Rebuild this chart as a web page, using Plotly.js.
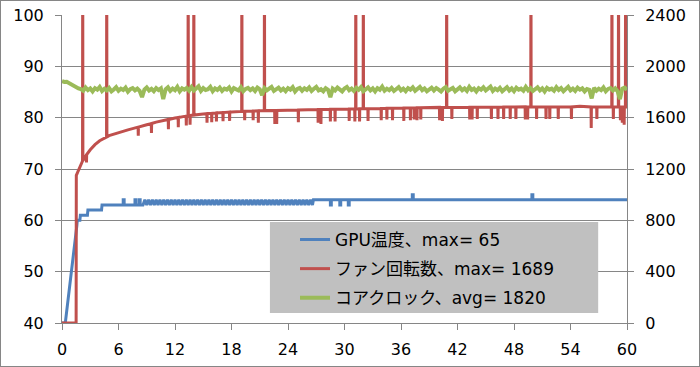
<!DOCTYPE html>
<html>
<head>
<meta charset="utf-8">
<script src="https://cdn.plot.ly/plotly-3.0.1.min.js"></script>
<style>
html,body{margin:0;padding:0;background:#fff;}
#chart{width:698px;height:365px;border:1px solid #868686;}
</style>
</head>
<body>
<div id="chart"></div>
<script>
// ---- Data ----
const seriesNames = ["GPU温度、max= 65", "ファン回転数、max= 1689", "コアクロック、avg= 1820"];
const xTicks = [0, 6, 12, 18, 24, 30, 36, 42, 48, 54, 60];
const leftTicks = [40, 50, 60, 70, 80, 90, 100];
const rightTicks = [0, 400, 800, 1200, 1600, 2000, 2400];

// GPU temperature (°C), minutes
const tempX = [0, 0.35, 1.58, 1.62, 1.9, 1.95, 2.7, 2.75, 4.2, 4.25,
  6.5, 6.5, 6.6, 6.6, 7.75, 7.75, 7.85, 7.85, 8.2, 8.2, 8.3, 8.3, 8.6,
  8.8, 9.0, 9.2, 9.4, 9.6, 9.8, 10.0, 10.2, 10.4, 10.6,
  10.8, 11.0, 11.2, 11.4, 11.6, 11.8, 12.0, 12.2, 12.4, 12.6,
  12.8, 13.0, 13.2, 13.4, 13.6, 13.8, 14.0, 14.2, 14.4, 14.6,
  14.8, 15.0, 15.2, 15.4, 15.6, 15.8, 16.0, 16.2, 16.4, 16.6,
  16.8, 17.0, 17.2, 17.4, 17.6, 17.8, 18.0, 18.2, 18.4, 18.6,
  18.8, 19.0, 19.2, 19.4, 19.6, 19.8, 20.0, 20.2, 20.4, 20.6,
  20.8, 21.0, 21.2, 21.4, 21.6, 21.8, 22.0, 22.2, 22.4, 22.6,
  22.8, 23.0, 23.2, 23.4, 23.6, 23.8, 24.0, 24.2, 24.4, 24.6,
  24.8, 25.0, 25.2, 25.4, 25.6, 25.8, 26.0, 26.2, 26.4, 26.6,
  26.7, 28.5, 28.5, 28.6, 28.6, 29.5, 29.5, 29.6, 29.6, 30.4, 30.4, 30.5, 30.5,
  37.2, 37.2, 37.3, 37.3, 49.9, 49.9, 50.0, 50.0, 60];
const tempY = [40, 40, 59, 60, 60, 61, 61, 62, 62, 63,
  63, 64, 64, 63, 63, 64, 64, 63, 63, 64, 64, 63, 63,
  64, 63, 64, 63, 64, 63, 64, 63, 64, 63,
  64, 63, 64, 63, 64, 63, 64, 63, 64, 63,
  64, 63, 64, 63, 64, 63, 64, 63, 64, 63,
  64, 63, 64, 63, 64, 63, 64, 63, 64, 63,
  64, 63, 64, 63, 64, 63, 64, 63, 64, 63,
  64, 63, 64, 63, 64, 63, 64, 63, 64, 63,
  64, 63, 64, 63, 64, 63, 64, 63, 64, 63,
  64, 63, 64, 63, 64, 63, 64, 63, 64, 63,
  64, 63, 64, 63, 64, 63, 64, 63, 64, 63,
  64, 64, 63, 63, 64, 64, 63, 63, 64, 64, 63, 63, 64,
  64, 65, 65, 64, 64, 65, 65, 64, 64];

// Fan speed (rpm), minutes; readings above 2400 are off-scale glitches
const fanX = [0, 1.5, 1.52, 1.7, 2.0,
  2.18, 2.2, 2.22, 2.5, 2.58, 2.6, 2.62, 3.0, 3.5, 4.0,
  4.73, 4.75, 4.77, 5.0, 6.0, 7.0,
  8.08, 8.1, 8.12, 9.0, 9.48, 9.5, 9.52, 10, 11,
  11.28, 11.3, 11.32, 12, 12.33, 12.35, 12.37, 13,
  13.18, 13.2, 13.22, 13.38, 13.4, 13.42, 13.58, 13.6, 13.62, 13.98, 14.0, 14.02, 15.0,
  15.38, 15.4, 15.42, 15.88, 15.9, 15.92, 16.38, 16.4, 16.42, 17.08, 17.1, 17.12, 17.78, 17.8, 17.82, 18.0,
  19.08, 19.1, 19.12, 19.38, 19.4, 19.42, 20.28, 20.3, 20.32, 20.83, 20.85, 20.87, 21.48, 21.5, 21.52,
  22.58, 22.6, 22.62, 22.78, 22.8, 22.82, 25.08, 25.1, 25.12, 27.18, 27.2, 27.22, 27.48, 27.5, 27.52,
  28.48, 28.5, 28.52, 28.98, 29.0, 29.02, 30.48, 30.5, 30.52, 31.08, 31.1, 31.12, 31.18, 31.2, 31.22,
  31.58, 31.6, 31.62, 31.98, 32.0, 32.02, 32.48, 32.5, 32.52, 33.88, 33.9, 33.92, 34.48, 34.5, 34.52,
  35.08, 35.1, 35.12, 36.28, 36.3, 36.32, 36.98, 37.0, 37.02, 37.38, 37.4, 37.42, 37.68, 37.7, 37.72,
  38.08, 38.1, 38.12, 40.08, 40.1, 40.12, 40.38, 40.4, 40.42, 40.83, 40.85, 40.87, 41.38, 41.4, 41.42,
  43.28, 43.3, 43.32, 43.53, 43.55, 43.57, 44.08, 44.1, 44.12, 45.58, 45.6, 45.62, 46.28, 46.3, 46.32,
  46.88, 46.9, 46.92, 47.58, 47.6, 47.62, 48.18, 48.2, 48.22, 49.18, 49.2, 49.22, 49.43, 49.45, 49.47,
  49.78, 49.8, 49.82, 50.38, 50.4, 50.42, 51.38, 51.4, 51.42, 51.78, 51.8, 51.82, 52.68, 52.7, 52.72,
  54.08, 54.1, 54.12, 55.0, 56.18, 56.2, 56.22, 56.78, 56.8, 56.82, 58.38, 58.4, 58.42, 58.53, 58.55, 58.57,
  59.08, 59.1, 59.12, 59.28, 59.3, 59.32, 59.48, 59.5, 59.52, 59.68, 59.7, 59.72, 59.83, 59.85, 59.87, 60];
const fanY = [0, 0, 1150, 1180, 1240,
  1262, 3000, 1266, 1300, 1308, 1250, 1312, 1350, 1390, 1420,
  1448, 3000, 1450, 1460, 1485, 1505,
  1526, 1460, 1527, 1545, 1554, 1480, 1555, 1565, 1582,
  1586, 1510, 1586, 1597, 1601, 1525, 1602, 1610,
  1612, 1540, 1612, 1614, 3000, 1614, 1616, 1545, 1616, 1620, 3000, 1620, 1628,
  1631, 1560, 1631, 1634, 1565, 1634, 1637, 1570, 1637, 1640, 1572, 1640, 1644, 1575, 1644, 1645,
  1649, 3000, 1649, 1650, 1580, 1650, 1652, 1580, 1652, 1653, 1560, 1653, 1655, 3000, 1655,
  1656, 1550, 1656, 1656, 1550, 1656, 1660, 1565, 1660, 1663, 1560, 1663, 1663, 1550, 1663,
  1665, 1570, 1665, 1666, 1570, 1666, 1667, 1575, 1667, 1668, 1570, 1668, 1668, 3000, 1668,
  1669, 1570, 1669, 1669, 3000, 1669, 1670, 1575, 1670, 1672, 1580, 1672, 1673, 1585, 1673,
  1673, 1580, 1673, 1675, 1575, 1675, 1676, 1580, 1676, 1676, 1585, 1676, 1677, 1580, 1677,
  1677, 1585, 1677, 1680, 1580, 1680, 1680, 1575, 1680, 1680, 3000, 1680, 1680, 1590, 1680,
  1681, 1585, 1681, 1681, 1585, 1681, 1681, 1590, 1681, 1682, 1590, 1682, 1682, 1590, 1682,
  1683, 1590, 1683, 1683, 1590, 1683, 1683, 1590, 1683, 1684, 1585, 1684, 1684, 1585, 1684,
  1684, 3000, 1684, 1684, 1590, 1684, 1684, 1590, 1684, 1684, 1590, 1684, 1684, 1590, 1684,
  1684, 1590, 1684, 1689, 1684, 1520, 1684, 1684, 1590, 1684, 1684, 3000, 1684, 1684, 1590, 1684,
  1684, 3000, 1684, 1684, 1580, 1684, 1684, 1560, 1684, 1684, 1545, 1684, 1684, 3000, 1684, 1684];

// Core clock (MHz), one reading every clockStep minutes starting at 0
const clockStep = 0.25;
const clockY = [1885, 1878, 1880, 1868, 1858, 1845, 1835, 1828,
  1822, 1810, 1835, 1815, 1828, 1805, 1830, 1818, 1840, 1808, 1825, 1812,
  1832, 1805, 1820, 1838, 1810, 1826, 1815, 1834, 1802, 1822, 1830, 1812,
  1826, 1808, 1760, 1818, 1835, 1812, 1824, 1806, 1830, 1815, 1828, 1745,
  1820, 1836, 1808, 1826, 1814, 1840, 1805, 1828, 1818, 1832, 1810, 1838,
  1812, 1825, 1845, 1808, 1830, 1815, 1822, 1840, 1806, 1828, 1816, 1834,
  1808, 1826, 1818, 1836, 1804, 1830, 1820, 1812, 1838, 1806, 1824, 1832,
  1814, 1828, 1808, 1835, 1822, 1775, 1830, 1812, 1826, 1840, 1808, 1820,
  1834, 1812, 1826, 1806, 1830, 1818, 1838, 1804, 1824, 1832, 1810, 1828,
  1816, 1836, 1808, 1825, 1840, 1812, 1822, 1806, 1830, 1818, 1760, 1826,
  1812, 1834, 1820, 1805, 1828, 1840, 1814, 1826, 1808, 1832, 1818, 1838,
  1806, 1824, 1836, 1812, 1828, 1804, 1830, 1818, 1842, 1810, 1826, 1814,
  1832, 1808, 1822, 1838, 1812, 1826, 1806, 1830, 1818, 1836, 1810, 1824,
  1840, 1814, 1828, 1806, 1822, 1834, 1812, 1830, 1818, 1804, 1826, 1838,
  1810, 1824, 1832, 1806, 1820, 1836, 1814, 1828, 1808, 1840, 1816, 1826,
  1804, 1830, 1818, 1836, 1812, 1824, 1842, 1808, 1826, 1814, 1832, 1806,
  1822, 1838, 1812, 1828, 1806, 1834, 1818, 1826, 1810, 1840, 1814, 1830,
  1808, 1824, 1836, 1812, 1828, 1804, 1832, 1818, 1826, 1810, 1838, 1816,
  1830, 1806, 1822, 1840, 1812, 1826, 1808, 1834, 1818, 1828, 1805, 1824,
  1818, 1750, 1832, 1810, 1826, 1814, 1836, 1806, 1824, 1830, 1812, 1828,
  1806, 1745, 1826, 1834, 1818];
const clockX = clockY.map((_, i) => i * clockStep);

// ---- Styling ----
const gridCol = "#868686";
const tickFont = {family: "DejaVu Sans, Liberation Sans, sans-serif", size: 16, color: "#000"};

const traces = [
  {x: tempX, y: tempY, name: seriesNames[0], type: "scatter", mode: "lines",
   line: {color: "#4F81BD", width: 3}, yaxis: "y", legendgroup: "g1"},
  {x: fanX, y: fanY, name: seriesNames[1], type: "scatter", mode: "lines",
   line: {color: "#C0504D", width: 3}, yaxis: "y2", legendgroup: "g2"},
  {x: clockX, y: clockY, name: seriesNames[2], type: "scatter", mode: "lines",
   line: {color: "#9BBB59", width: 4}, yaxis: "y2", legendgroup: "g3"}
];

const layout = {
  width: 698, height: 365,
  margin: {l: 61, r: 72, t: 14, b: 43, pad: 0},
  paper_bgcolor: "#fff", plot_bgcolor: "#fff",
  showlegend: true,
  xaxis: {
    range: [0, 60], tickvals: xTicks, ticktext: xTicks.map(String),
    ticks: "outside", ticklen: 6, tickcolor: gridCol, tickwidth: 1,
    showline: true, linecolor: gridCol, linewidth: 1,
    showgrid: false, zeroline: false, tickfont: tickFont, ticklabelstandoff: 6
  },
  yaxis: {
    range: [40, 100], tickvals: leftTicks, ticktext: leftTicks.map(String),
    ticks: "outside", ticklen: 6, tickcolor: gridCol, tickwidth: 1,
    showline: true, linecolor: gridCol, linewidth: 1,
    showgrid: true, gridcolor: gridCol, gridwidth: 1, zeroline: false,
    tickfont: tickFont, ticklabelstandoff: 8
  },
  yaxis2: {
    range: [0, 2400], tickvals: rightTicks, ticktext: rightTicks.map(String),
    overlaying: "y", side: "right",
    ticks: "outside", ticklen: 6, tickcolor: gridCol, tickwidth: 1,
    showline: true, linecolor: gridCol, linewidth: 1,
    showgrid: false, zeroline: false, tickfont: tickFont, ticklabelstandoff: 8
  },
  legend: {
    x: 0.4124, y: 0.328, xanchor: "left", yanchor: "top",
    bgcolor: "rgba(0,0,0,0)", borderwidth: 0, tracegroupgap: 4,
    font: {family: "DejaVu Sans, Noto Sans CJK JP, sans-serif", size: 17, color: "#000"}
  },
  shapes: [{
    type: "rect", xref: "paper", yref: "paper", layer: "above",
    x0: 0.368, x1: 0.949, y0: 0.0325, y1: 0.328,
    fillcolor: "#C0C0C0", line: {width: 0}
  }]
};

Plotly.newPlot("chart", traces, layout, {displayModeBar: false, staticPlot: true});
</script>
</body>
</html>
